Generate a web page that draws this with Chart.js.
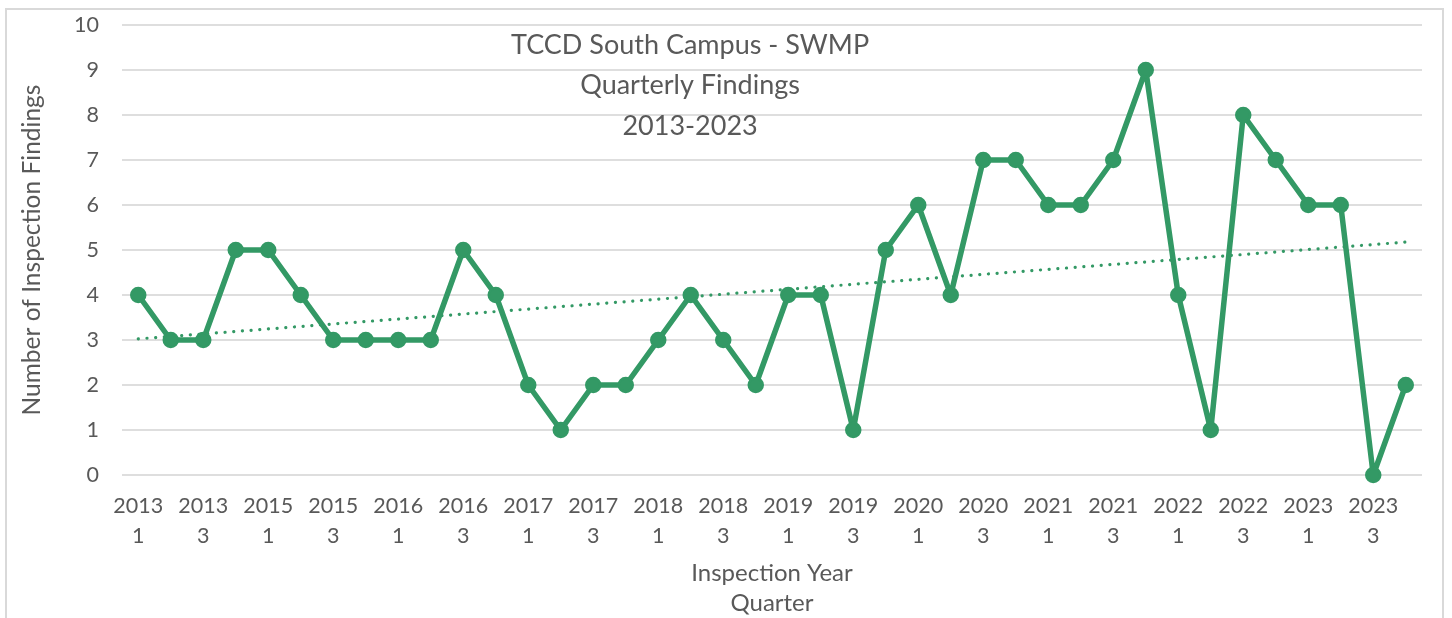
<!DOCTYPE html>
<html>
<head>
<meta charset="utf-8">
<script src="https://cdn.jsdelivr.net/npm/chart.js@4/dist/chart.umd.min.js"></script>
<style>
    html, body { margin: 0; padding: 0; background: #fff; }
    #wrap { position: relative; width: 1452px; height: 618px; }
    #frame {
        position: absolute; left: 5px; top: 8px; width: 1439px; height: 640px;
        border: 2px solid #d9d9d9; box-sizing: border-box;
    }
    canvas { position: absolute; left: 0; top: 0; }
</style>
</head>
<body>
<div id="wrap">
    <div id="frame"></div>
    <canvas id="chart" width="1452" height="618"></canvas>
</div>
<script>
// years shown on the category axis (2014 has no data)
const years = [2013, 2015, 2016, 2017, 2018, 2019, 2020, 2021, 2022, 2023];
const quarters = [1, 2, 3, 4];
const findings = [
    4, 3, 3, 5,
    5, 4, 3, 3,
    3, 3, 5, 4,
    2, 1, 2, 2,
    3, 4, 3, 2,
    4, 4, 1, 5,
    6, 4, 7, 7,
    6, 6, 7, 9,
    4, 1, 8, 7,
    6, 6, 0, 2,
];
const yTicks = [0, 1, 2, 3, 4, 5, 6, 7, 8, 9, 10];
const titleLines = ["TCCD South Campus - SWMP", "Quarterly Findings", "2013-2023"];

const labels = [];
years.forEach((y) => quarters.forEach((q) => labels.push([String(y), String(q)])));

// linear trendline, same as the spreadsheet's
function linearTrend(values) {
    const n = values.length;
    let sx = 0, sy = 0, sxy = 0, sxx = 0;
    values.forEach((v, i) => { sx += i; sy += v; sxy += i * v; sxx += i * i; });
    const slope = (n * sxy - sx * sy) / (n * sxx - sx * sx);
    const icpt = (sy - slope * sx) / n;
    return values.map((_, i) => icpt + slope * i);
}

const green = "#339965";
const grey = "#595959";
const font = "Lato";

const overlayTitle = {
    id: "overlayTitle",
    afterDraw(chart) {
        const { ctx, chartArea } = chart;
        ctx.save();
        ctx.fillStyle = grey;
        ctx.font = "27px " + font;
        ctx.textAlign = "center";
        ctx.textBaseline = "middle";
        const cx = chartArea.left + (chartArea.right - chartArea.left) * 0.437;
        titleLines.forEach((t, i) => ctx.fillText(t, cx, chartArea.top + 20 + i * 40.5));
        ctx.restore();
    },
};

new Chart(document.getElementById("chart"), {
    type: "line",
    data: {
        labels: labels,
        datasets: [
            {
                data: findings,
                borderColor: green,
                backgroundColor: green,
                borderWidth: 5.5,
                borderJoinStyle: "round",
                borderCapStyle: "round",
                pointRadius: 7,
                pointBorderWidth: 2.5,
                pointBorderColor: green,
                pointBackgroundColor: green,
                tension: 0,
                clip: false,
            },
            {
                data: linearTrend(findings),
                borderColor: green,
                borderWidth: 3.2,
                borderDash: [0.1, 8.6],
                borderCapStyle: "round",
                pointRadius: 0,
                tension: 0,
                clip: false,
            },
        ],
    },
    options: {
        responsive: false,
        animation: false,
        layout: { padding: { top: 25, right: 30, left: 0, bottom: 0 } },
        plugins: {
            legend: { display: false },
            tooltip: { enabled: false },
        },
        scales: {
            x: {
                offset: true,
                border: { display: false },
                grid: { display: false },
                ticks: {
                    autoSkip: false,
                    maxRotation: 0,
                    color: grey,
                    padding: 8,
                    font: { family: font, size: 21.5, lineHeight: 1.4 },
                    callback: function (val, i) {
                        return i % 2 === 0 ? labels[i] : "";
                    },
                },
                title: {
                    display: true,
                    text: ["Inspection Year", "Quarter"],
                    color: grey,
                    font: { family: font, size: 24, lineHeight: 1.25 },
                    padding: { top: 0, bottom: 0 },
                },
                afterFit(scale) {
                    scale.height = 618 - 475;
                    scale.paddingLeft = 0;
                    scale.paddingRight = 0;
                },
            },
            y: {
                min: 0,
                max: 10,
                border: { display: false },
                grid: { color: "#dedede", lineWidth: 2, drawTicks: false },
                afterBuildTicks(scale) { scale.ticks = yTicks.map((v) => ({ value: v })); },
                ticks: {
                    color: grey,
                    padding: 23,
                    font: { family: font, size: 21.5 },
                },
                title: {
                    display: true,
                    text: "Number of Inspection Findings",
                    color: grey,
                    font: { family: font, size: 24.5 },
                    padding: { top: 17, bottom: 0 },
                },
                afterFit(scale) {
                    scale.width = 122;
                    scale.paddingTop = 0;
                    scale.paddingBottom = 0;
                },
            },
        },
    },
    plugins: [overlayTitle],
});
</script>
</body>
</html>
